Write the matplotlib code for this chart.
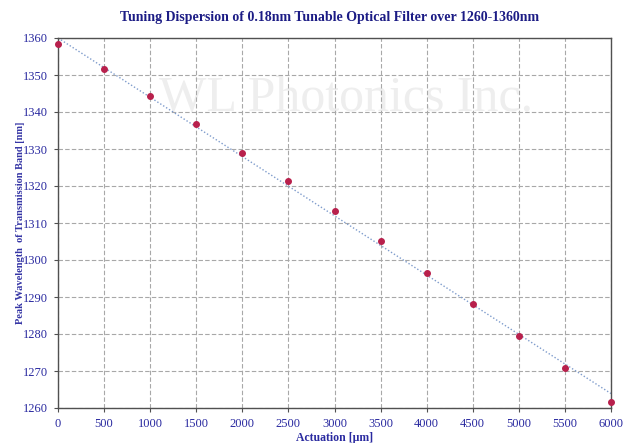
import matplotlib
matplotlib.use("Agg")
import matplotlib.pyplot as plt

# Data
actuation = [0, 500, 1000, 1500, 2000, 2500, 3000, 3500, 4000, 4500, 5000, 5500, 6000]
wavelength = [1358.4, 1351.5, 1344.2, 1336.8, 1329.0, 1321.3, 1313.3, 1305.1,
              1296.6, 1288.2, 1279.4, 1270.8, 1261.6]
fit_x = [0, 6000]
fit_y = [1360.0, 1263.9]
x_ticks = list(range(0, 6001, 500))
y_ticks = list(range(1260, 1361, 10))

title = "Tuning Dispersion of 0.18nm Tunable Optical Filter over 1260-1360nm"
xlabel = "Actuation [\u03bcm]"
ylabel = "Peak Wavelength  of Transmission Band [nm]"

serif = ["Liberation Serif", "DejaVu Serif"]
blue = "#2a2aa0"

fig = plt.figure(figsize=(6.31, 4.43), dpi=100)
ax = fig.add_axes([58/631, 1-408/443, (611-58)/631, (408-38)/443])

# faint watermark text inside the plot area
ax.text(0.52, 0.835, "WL Photonics Inc.", transform=ax.transAxes, ha="center", va="center",
        fontsize=36, family=serif, color="#eeeeee", zorder=0)

ax.plot(fit_x, fit_y, linestyle=(0, (1, 1.5)), color="#7f9ccc", linewidth=1.0, zorder=2)
ax.plot(actuation, wavelength, linestyle="none", marker="o", markersize=4,
        color="#b8204c", markeredgecolor="#b8204c", zorder=3, clip_on=False)

ax.set_xlim(0, 6000)
ax.set_ylim(1260, 1360)
ax.set_xticks(x_ticks)
ax.set_yticks(y_ticks)
ax.grid(True, linestyle=(0, (4, 2)), color="#a8a8a8", linewidth=0.8)
for s in ax.spines.values():
    s.set_color("#505050")
    s.set_linewidth(1.0)
ax.tick_params(axis="both", direction="out", length=3, color="#505050",
               labelcolor=blue, labelsize=9, pad=4)
for lab in ax.get_xticklabels() + ax.get_yticklabels():
    lab.set_family(serif)

ax.set_xlabel(xlabel, family=serif, fontsize=8.5, fontweight="bold", color=blue, labelpad=2)
ax.set_ylabel(ylabel, family=serif, fontsize=7.5, fontweight="bold", color="#3535a5", labelpad=-1)
fig.text(330/631, 1-17/443, title, ha="center", va="center", family=serif,
         fontsize=10, fontweight="bold", color="#1c1c85")

fig.savefig("out.png", dpi=100, facecolor="white")
